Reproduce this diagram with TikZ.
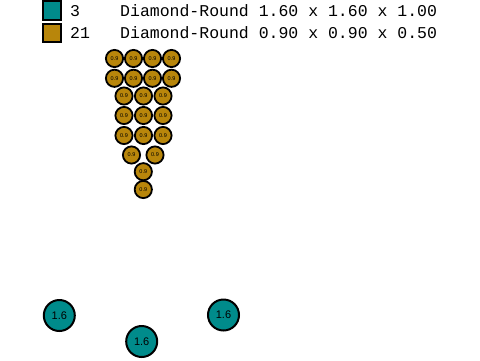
\documentclass[tikz,border=0pt]{standalone}
\usepackage{fontspec}
\setmainfont{Liberation Sans}
\newfontfamily\monof{Liberation Mono}
\definecolor{tealc}{RGB}{0,139,139}
\definecolor{goldc}{RGB}{184,134,11}
\begin{document}
\begin{tikzpicture}[x=1pt,y=-1pt,
  big/.style={circle,draw=black,line width=2pt,fill=tealc,minimum size=31pt,inner sep=0pt,font=\fontsize{11}{11}\selectfont},
  small/.style={circle,draw=black,line width=1.8pt,fill=goldc,minimum size=17.2pt,inner sep=0pt,font=\fontsize{5.5}{5.5}\selectfont},
  legsq/.style={draw=black,line width=2pt,minimum size=18.5pt,inner sep=0pt},
  legtxt/.style={anchor=base west,inner sep=0pt,font=\monof\fontsize{16.5}{16.5}\selectfont}]
\useasboundingbox (0,0) rectangle (480,360);
% legend
\node[legsq,fill=tealc] (sq1) at (52,10.7) {};
\node[legsq,fill=goldc] (sq2) at (52,33) {};
\node[legtxt] (n1) at (70,16) {3};
\node[legtxt] (n2) at (70,38) {21};
\node[legtxt] (d1) at (120,16) {Diamond-Round 1.60 x 1.60 x 1.00};
\node[legtxt] (d2) at (120,38) {Diamond-Round 0.90 x 0.90 x 0.50};
% small stones
\foreach \x [count=\i] in {114.5,133.5,152.5,171.5}{
  \node[small] (a\i) at (\x,58.5) {0.9};
  \node[small] (b\i) at (\x,78.3) {0.9};
}
\foreach \x [count=\i] in {124,143.5,163}{
  \node[small] (c\i) at (\x,96) {0.9};
  \node[small] (d\i) at (\x,115.5) {0.9};
  \node[small] (e\i) at (\x,135.5) {0.9};
}
\node[small] (f1) at (131.5,155) {0.9};
\node[small] (f2) at (155,155) {0.9};
\node[small] (g1) at (143.3,171.7) {0.9};
\node[small] (h1) at (143.3,189.5) {0.9};
% big stones
\node[big] (p1) at (59.3,315.5) {1.6};
\node[big] (p2) at (141.7,341.5) {1.6};
\node[big] (p3) at (223.5,315) {1.6};
\end{tikzpicture}
\end{document}
